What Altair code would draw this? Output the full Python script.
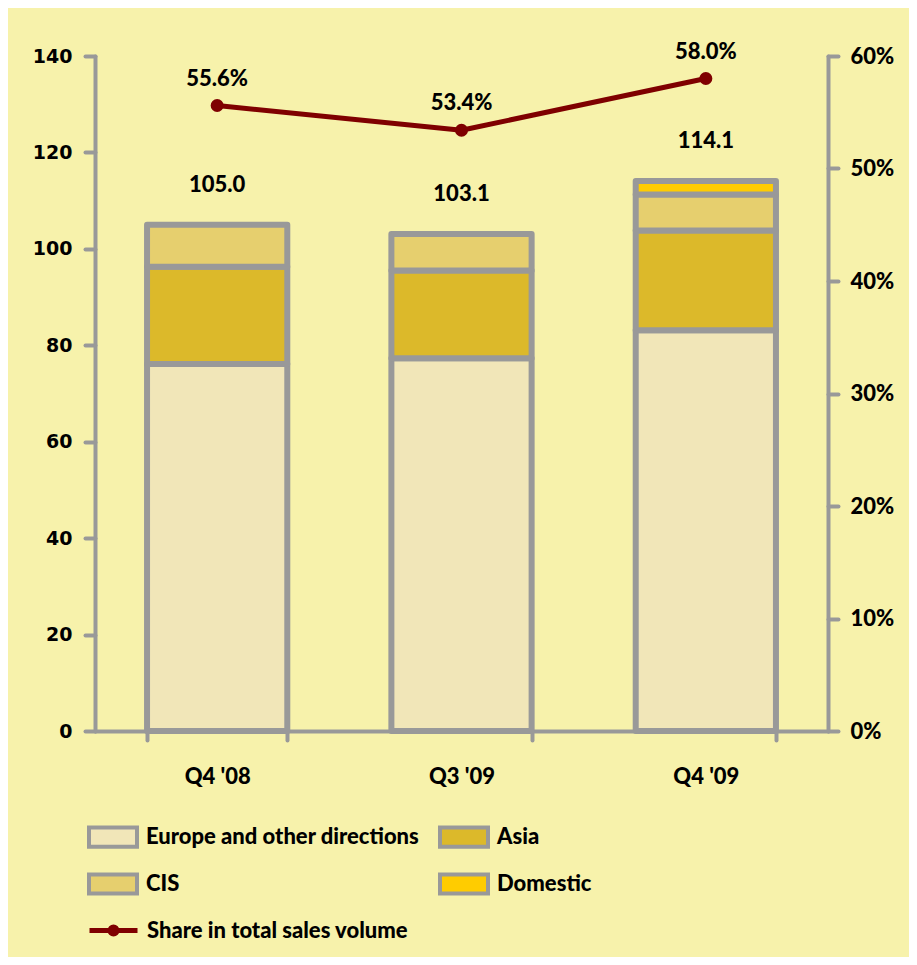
import altair as alt
import pandas as pd

quarters = ["Q4 '08", "Q3 '09", "Q4 '09"]
regions = ["Europe and other directions", "Asia", "CIS", "Domestic"]
region_colors = ["#F1E6B8", "#DCB92A", "#E6CF6E", "#FFCC00"]
europe = [76.1, 77.3, 83.1]
asia = [20.2, 18.2, 20.7]
cis = [8.7, 7.6, 7.5]
domestic = [0.0, 0.0, 2.8]
totals = [105.0, 103.1, 114.1]
share = [55.6, 53.4, 58.0]
share_name = "Share in total sales volume"
left_ticks = [0, 20, 40, 60, 80, 100, 120, 140]
right_ticks = [0, 10, 20, 30, 40, 50, 60]

GREY = "#999999"
RED = "#7F0000"
BG = "#F7F2AB"
FONT = "Lato"
WEIGHT = 900

rows = []
for i, q in enumerate(quarters):
    for k, (name, series) in enumerate(zip(regions, [europe, asia, cis, domestic])):
        if series[i] > 0:
            rows.append({"quarter": q, "region": name, "value": series[i], "order": k})
bars_df = pd.DataFrame(rows)
summary_df = pd.DataFrame({"quarter": quarters, "total": totals, "share": share,
                           "series": [share_name] * len(quarters)})

x = alt.X(
    "quarter:N", sort=quarters, title=None,
    scale=alt.Scale(paddingInner=0.426, paddingOuter=0.213),
    axis=alt.Axis(labelAngle=0, domainColor=GREY, domainWidth=4, domainCap="round",
                  tickColor=GREY, tickWidth=4, tickSize=9, tickCap="round", tickBand="extent",
                  labelFont=FONT, labelFontSize=22, labelFontWeight=WEIGHT,
                  labelColor="black", labelPadding=26),
)

left_axis = alt.Axis(values=left_ticks, grid=False, title=None, domainColor=GREY, domainWidth=4,
                     domainCap="round", tickColor=GREY, tickWidth=4, tickSize=10,
                     tickCap="round", labelFont="DejaVu Sans", labelFontSize=19,
                     labelFontWeight="bold", labelColor="black", labelPadding=13)
left_scale = alt.Scale(domain=[0, 140], nice=False)

right_axis = alt.Axis(orient="right", values=right_ticks, grid=False, title=None,
                      labelExpr="datum.value + '%'", domainColor=GREY, domainWidth=4,
                      domainCap="round", tickColor=GREY, tickWidth=4, tickSize=10,
                      tickCap="round", labelFont=FONT, labelFontSize=22,
                      labelFontWeight=WEIGHT, labelColor="black", labelPadding=12)
right_scale = alt.Scale(domain=[0, 60], nice=False)

bars = alt.Chart(bars_df).mark_bar(stroke=GREY, strokeWidth=6, strokeJoin="round").encode(
    x=x,
    y=alt.Y("value:Q", stack="zero", title=None, scale=left_scale, axis=left_axis),
    fill=alt.Fill("region:N", scale=alt.Scale(domain=regions, range=region_colors),
                  legend=alt.Legend(
                      title=None, orient="none", legendX=0, legendY=763, columns=2,
                      direction="horizontal",
                      padding=0, symbolType="M-1.5,-0.6H1.5V0.6H-1.5Z", symbolSize=1024,
                      symbolStrokeColor=GREY, symbolStrokeWidth=4, symbolOpacity=1,
                      labelFont=FONT, labelFontSize=22, labelFontWeight=WEIGHT,
                      labelColor="black", labelOffset=15, rowPadding=11, columnPadding=12,
                      labelLimit=500)),
    order=alt.Order("order:Q", sort="ascending"),
)

total_text = alt.Chart(summary_df).mark_text(
    font=FONT, fontSize=22, fontWeight=WEIGHT, color="black", dy=-40
).encode(x=x, y=alt.Y("total:Q", title=None, scale=left_scale, axis=left_axis),
         text=alt.Text("total:Q", format=".1f"))

left_group = alt.layer(bars, total_text)

line = alt.Chart(summary_df).mark_line(strokeWidth=5, strokeCap="round", strokeJoin="round").encode(
    x=x, y=alt.Y("share:Q", title=None, scale=right_scale, axis=right_axis),
    stroke=alt.Stroke("series:N", scale=alt.Scale(domain=[share_name], range=[RED]),
                      legend=alt.Legend(
                          title=None, orient="none", legendX=0, legendY=856, padding=0,
                          symbolType="M-1.5,0H1.5M0.22,0A0.22,0.22,0,1,1,-0.22,0A0.22,0.22,0,1,1,0.22,0",
                          symbolSize=1024, symbolStrokeWidth=5, symbolFillColor=RED,
                          symbolOpacity=1, labelFont=FONT, labelFontSize=22,
                          labelFontWeight=WEIGHT, labelColor="black", labelOffset=15,
                          labelLimit=500)),
)
points = alt.Chart(summary_df).mark_point(filled=True, size=170, color=RED, opacity=1).encode(
    x=x, y=alt.Y("share:Q", title=None, scale=right_scale, axis=right_axis))
pct_text = alt.Chart(summary_df).transform_calculate(
    label="format(datum.share, '.1f') + '%'"
).mark_text(font=FONT, fontSize=22, fontWeight=WEIGHT, color="black", dy=-27).encode(
    x=x, y=alt.Y("share:Q", title=None, scale=right_scale, axis=right_axis), text="label:N")

right_group = alt.layer(line, points, pct_text)

chart = alt.layer(left_group, right_group).resolve_scale(y="independent").properties(
    width=733, height=675,
    autosize=alt.AutoSizeParams(type="none"),
    padding={"left": 87, "top": 48, "right": 81, "bottom": 226},
    background=BG,
).configure_view(stroke=None)

chart.save("out.html", embed_options={"renderer": "svg", "actions": False})
